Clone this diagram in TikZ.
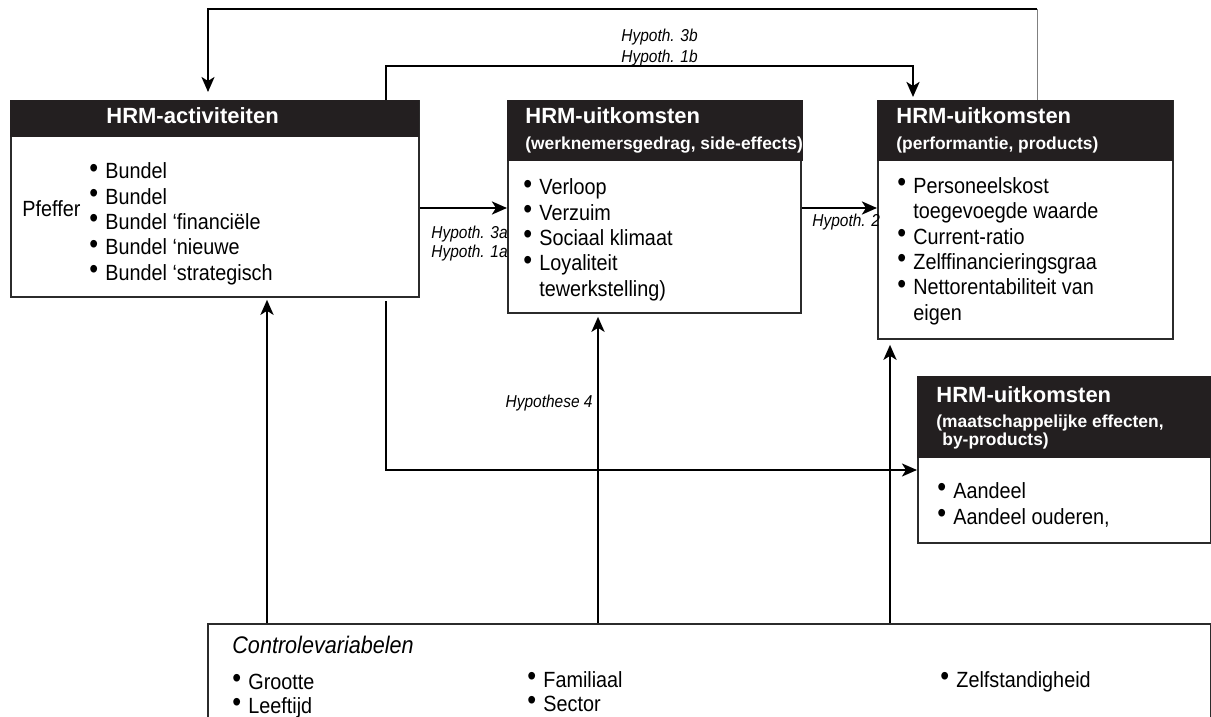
\documentclass[tikz,border=0pt]{standalone}
\usepackage{fontspec}
\setmainfont{Liberation Sans}[FakeStretch=0.9]
\newfontfamily\kopfont{Liberation Sans}
\usetikzlibrary{arrows.meta}

\definecolor{kopzwart}{HTML}{231F20}
\definecolor{rand}{HTML}{2B2B2B}

\newcommand{\blt}{\makebox[8pt][l]{\raisebox{0.8pt}{\fontsize{14}{14}\selectfont •}}}
\newcommand{\inspr}{\hspace*{8pt}}

\begin{document}
\begin{tikzpicture}[x=0.5pt, y=-0.5pt,
    kop/.style={fill=kopzwart, draw=kopzwart, anchor=north west, inner sep=0pt},
    lijf/.style={draw=rand, line width=0.9pt, fill=white, anchor=north west, inner sep=0pt},
    titel/.style={text=white, anchor=base west, inner sep=0pt, font=\kopfont\bfseries\fontsize{11}{13}\selectfont},
    ondertitel/.style={text=white, anchor=base west, inner sep=0pt, font=\kopfont\bfseries\fontsize{8.7}{9}\selectfont},
    lijst/.style={anchor=base west, inner sep=0pt, align=left, font=\fontsize{11}{12.65}\selectfont},
    hyp/.style={anchor=base west, inner sep=0pt, font=\itshape\fontsize{8.6}{10}\selectfont},
    punt/.style={-{Stealth[length=7.5pt, width=6.5pt, inset=2pt]}},
    pijl/.style={punt, line width=1.4pt},
    lijn/.style={line width=1.1pt},
    grijs/.style={line width=0.5pt, draw=gray}]

    \useasboundingbox (0,0) rectangle (1211,717);

    % de vakken
    \node[lijf, minimum width=204pt, minimum height=98pt] (act) at (10,100) {};
    \node[kop, minimum width=204pt, minimum height=18pt] (actkop) at (10,100) {};
    \node[titel] (acttitel) at (106,124) {HRM-activiteiten};

    \node[lijf, minimum width=146.5pt, minimum height=106pt] (werk) at (507,100) {};
    \node[kop, minimum width=147.5pt, minimum height=30pt] (werkkop) at (507,100) {};
    \node[titel] (werktitel) at (525,124) {HRM-uitkomsten};
    \node[ondertitel] (werksub) at (525,150) {(werknemersgedrag, side-effects)};

    \node[lijf, minimum width=147.5pt, minimum height=119pt] (perf) at (877,100) {};
    \node[kop, minimum width=147.5pt, minimum height=30pt] (perfkop) at (877,100) {};
    \node[titel] (perftitel) at (896,124) {HRM-uitkomsten};
    \node[ondertitel] (perfsub) at (896,150) {(performantie, products)};

    \node[lijf, minimum width=146.5pt, minimum height=83pt] (maat) at (917,376) {};
    \node[kop, minimum width=146.5pt, minimum height=40.5pt] (maatkop) at (917,376) {};
    \node[titel] (maattitel) at (936,402) {HRM-uitkomsten};
    \node[ondertitel] (maatsub) at (936,427) {(maatschappelijke effecten,};
    \node[ondertitel] (maatsub2) at (942,445) {by-products)};

    \node[lijf, minimum width=501.5pt, minimum height=90pt] (ctrl) at (207,623) {};

    % inhoud (anker op de laatste regel)
    \node[lijst] (pfeffer) at (22,217) {Pfeffer};
    \node[lijst] (actlijst) at (89,280) {\blt Bundel\\ \blt Bundel\\ \blt Bundel ‘financiële\\ \blt Bundel ‘nieuwe\\ \blt Bundel ‘strategisch};
    \node[lijst] (werklijst) at (523,296) {\blt Verloop\\ \blt Verzuim\\ \blt Sociaal klimaat\\ \blt Loyaliteit\\ \inspr tewerkstelling)};
    \node[lijst] (perflijst) at (897,320) {\blt Personeelskost\\ \inspr toegevoegde waarde\\ \blt Current-ratio\\ \blt Zelffinancieringsgraa\\ \blt Nettorentabiliteit van\\ \inspr eigen};
    \node[lijst, font=\fontsize{11}{13}\selectfont] (maatlijst) at (937,524) {\blt Aandeel\\ \blt Aandeel ouderen,};

    \node[anchor=base west, inner sep=0pt, font=\itshape\fontsize{12}{14}\selectfont] (ctrltitel) at (232,653) {Controlevariabelen};
    \node[lijst, font=\fontsize{11}{12}\selectfont] (ctrl1) at (232,713) {\blt Grootte\\ \blt Leeftijd};
    \node[lijst, font=\fontsize{11}{12}\selectfont] (ctrl2) at (527,711) {\blt Familiaal\\ \blt Sector};
    \node[lijst] (ctrl3) at (940,687) {\blt Zelfstandigheid};

    % verbindingen
    \coordinate (pijlAB) at (0,208);
    \draw[pijl] (act.east |- pijlAB) -- (werk.west |- pijlAB);
    \draw[pijl] (werk.east |- pijlAB) -- (perf.west |- pijlAB);

    \coordinate (lusR) at (1037,9);
    \coordinate (lusL) at (208,9);
    \draw[grijs] (perfkop.north -| lusR) -- (lusR);
    \draw[lijn, punt, shorten >=4pt] (lusR) -- (lusL) -- (lusL |- actkop.north);

    \coordinate (brugL) at (386,66);
    \coordinate (brugR) at (913,66);
    \draw[pijl, shorten >=1.5pt] (brugL |- actkop.north) -- (brugL) -- (brugR) -- (brugR |- perfkop.north);

    \coordinate (takstart) at (386,301);
    \coordinate (tak) at (386,470);
    \draw[lijn, punt] (takstart) -- (tak) -- (maat.west |- tak);

    \coordinate (op1) at (267,0);
    \coordinate (op2) at (598,0);
    \coordinate (op3) at (890,0);
    \draw[pijl, shorten >=1pt] (ctrl.north -| op1) -- (act.south -| op1);
    \draw[pijl, shorten >=1.5pt] (ctrl.north -| op2) -- (werk.south -| op2);
    \draw[pijl, shorten >=2.5pt] (ctrl.north -| op3) -- (perf.south -| op3);

    % hypothesen
    \node[hyp] (h3b) at (621,42) {Hypoth. 3b};
    \node[hyp] (h1b) at (621,63) {Hypoth. 1b};
    \node[hyp] (h3a) at (431,238) {Hypoth. 3a};
    \node[hyp] (h1a) at (431,257) {Hypoth. 1a};
    \node[hyp] (h2) at (812,227) {Hypoth. 2};
    \node[hyp, anchor=base east] (h4) at (593,407) {Hypothese 4};
\end{tikzpicture}
\end{document}
